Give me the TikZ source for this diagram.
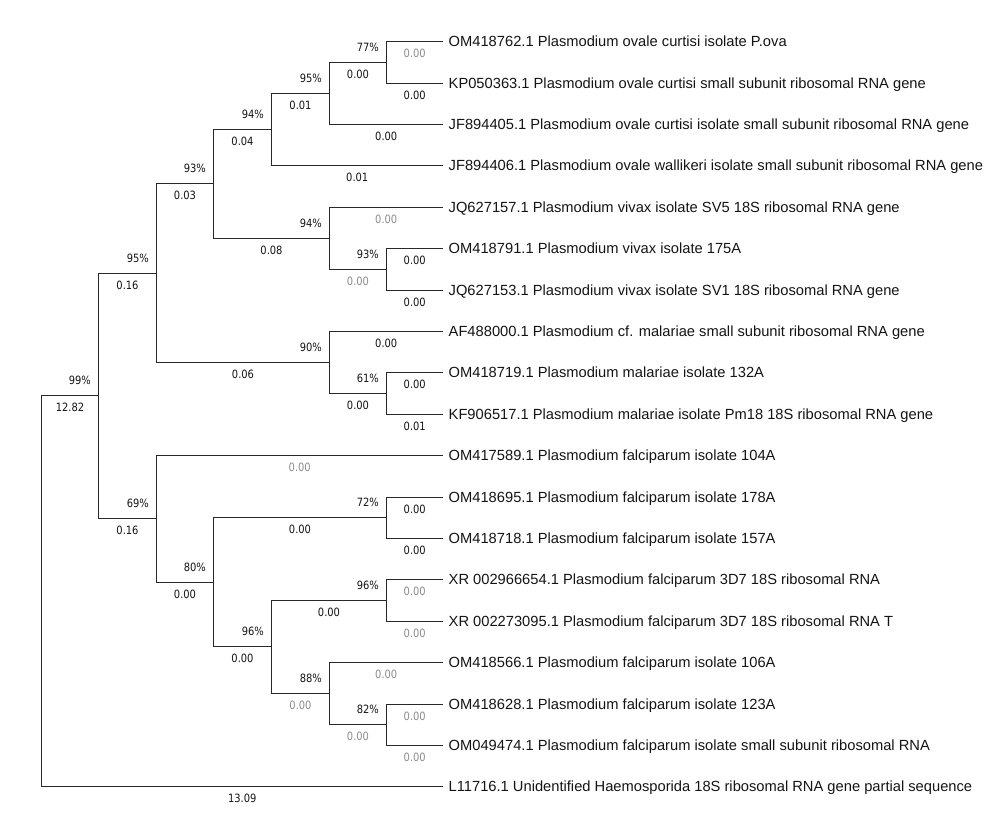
\documentclass[tikz,border=0pt]{standalone}
\usepackage{fontspec}
\setmainfont{Liberation Sans}
\newfontfamily\numfont{DejaVu Sans}[FakeStretch=0.87]
\definecolor{ln}{RGB}{40,40,40}
\definecolor{tx}{RGB}{20,20,20}
\definecolor{gr}{RGB}{140,140,140}
\begin{document}
\begin{tikzpicture}[x=1pt,y=-1pt,
  tree/.style={draw=ln, line width=1.2pt},
  boot/.style={pos=1, anchor=base east, xshift=-7pt, yshift=11.3pt, inner sep=0pt, text=tx, font=\fontsize{11.4}{13}\numfont},
  blen/.style={pos=0.75, anchor=base, yshift=-15.6pt, inner sep=0pt, text=tx, font=\fontsize{11.4}{13}\numfont},
  blg/.style={blen, text=gr},
  leaflab/.style={anchor=base west, xshift=5.5pt, yshift=-5.3pt, inner sep=0pt, text=tx, font=\fontsize{14.7}{17}\selectfont}]
\useasboundingbox (0,0) rectangle (1000,818);
% leaves
\foreach \i/\y in {1/41.5,2/83.5,3/124.5,4/165.5,5/207.5,6/248.5,7/290.5,8/331.5,9/372.5,10/414.5,11/455.5,12/497.5,13/538.5,14/579.5,15/621.5,16/662.5,17/704.5,18/745.5,19/786.5}
  \coordinate (L\i) at (443,\y);
% internal nodes
\coordinate (A) at (386.5,62.5);
\coordinate (B) at (329.5,93.5);
\coordinate (C) at (271.5,129.5);
\coordinate (G) at (386.5,269.5);
\coordinate (E) at (329.5,238.5);
\coordinate (D) at (213.5,183.5);
\coordinate (J) at (386.5,393.5);
\coordinate (H) at (329.5,362.5);
\coordinate (F) at (156.5,273.5);
\coordinate (M) at (386.5,517.5);
\coordinate (O) at (386.5,600.5);
\coordinate (Q) at (386.5,724.5);
\coordinate (P) at (329.5,693.5);
\coordinate (N) at (271.5,646.5);
\coordinate (LL) at (213.5,582.5);
\coordinate (K) at (156.5,518.5);
\coordinate (I) at (98.5,395.5);
\coordinate (R) at (41.5,591.5);
% leaf labels
\node[leaflab] (t1) at (L1) {OM418762.1 Plasmodium ovale curtisi isolate P.ova};
\node[leaflab] (t2) at (L2) {KP050363.1 Plasmodium ovale curtisi small subunit ribosomal RNA gene};
\node[leaflab] (t3) at (L3) {JF894405.1 Plasmodium ovale curtisi isolate small subunit ribosomal RNA gene};
\node[leaflab] (t4) at (L4) {JF894406.1 Plasmodium ovale wallikeri isolate small subunit ribosomal RNA gene};
\node[leaflab] (t5) at (L5) {JQ627157.1 Plasmodium vivax isolate SV5 18S ribosomal RNA gene};
\node[leaflab] (t6) at (L6) {OM418791.1 Plasmodium vivax isolate 175A};
\node[leaflab] (t7) at (L7) {JQ627153.1 Plasmodium vivax isolate SV1 18S ribosomal RNA gene};
\node[leaflab] (t8) at (L8) {AF488000.1 Plasmodium cf. malariae small subunit ribosomal RNA gene};
\node[leaflab] (t9) at (L9) {OM418719.1 Plasmodium malariae isolate 132A};
\node[leaflab] (t10) at (L10) {KF906517.1 Plasmodium malariae isolate Pm18 18S ribosomal RNA gene};
\node[leaflab] (t11) at (L11) {OM417589.1 Plasmodium falciparum isolate 104A};
\node[leaflab] (t12) at (L12) {OM418695.1 Plasmodium falciparum isolate 178A};
\node[leaflab] (t13) at (L13) {OM418718.1 Plasmodium falciparum isolate 157A};
\node[leaflab] (t14) at (L14) {XR 002966654.1 Plasmodium falciparum 3D7 18S ribosomal RNA};
\node[leaflab] (t15) at (L15) {XR 002273095.1 Plasmodium falciparum 3D7 18S ribosomal RNA T};
\node[leaflab] (t16) at (L16) {OM418566.1 Plasmodium falciparum isolate 106A};
\node[leaflab] (t17) at (L17) {OM418628.1 Plasmodium falciparum isolate 123A};
\node[leaflab] (t18) at (L18) {OM049474.1 Plasmodium falciparum isolate small subunit ribosomal RNA};
\node[leaflab] (t19) at (L19) {L11716.1 Unidentified Haemosporida 18S ribosomal RNA gene partial sequence};
% branches
\draw[tree] (R) |- (I) node[boot]{99\%} node[blen]{12.82};
\draw[tree] (R) |- (L19) node[blen]{13.09};
\draw[tree] (I) |- (F) node[boot]{95\%} node[blen]{0.16};
\draw[tree] (I) |- (K) node[boot]{69\%} node[blen]{0.16};
\draw[tree] (F) |- (D) node[boot]{93\%} node[blen]{0.03};
\draw[tree] (F) |- (H) node[boot]{90\%} node[blen]{0.06};
\draw[tree] (D) |- (C) node[boot]{94\%} node[blen]{0.04};
\draw[tree] (D) |- (E) node[boot]{94\%} node[blen]{0.08};
\draw[tree] (C) |- (B) node[boot]{95\%} node[blen]{0.01};
\draw[tree] (C) |- (L4) node[blen]{0.01};
\draw[tree] (B) |- (A) node[boot]{77\%} node[blen]{0.00};
\draw[tree] (B) |- (L3) node[blen]{0.00};
\draw[tree] (A) |- (L1) node[blg]{0.00};
\draw[tree] (A) |- (L2) node[blen]{0.00};
\draw[tree] (E) |- (L5) node[blg]{0.00};
\draw[tree] (E) |- (G) node[boot]{93\%} node[blg]{0.00};
\draw[tree] (G) |- (L6) node[blen]{0.00};
\draw[tree] (G) |- (L7) node[blen]{0.00};
\draw[tree] (H) |- (L8) node[blen]{0.00};
\draw[tree] (H) |- (J) node[boot]{61\%} node[blen]{0.00};
\draw[tree] (J) |- (L9) node[blen]{0.00};
\draw[tree] (J) |- (L10) node[blen]{0.01};
\draw[tree] (K) |- (L11) node[blg]{0.00};
\draw[tree] (K) |- (LL) node[boot]{80\%} node[blen]{0.00};
\draw[tree] (LL) |- (M) node[boot]{72\%} node[blen]{0.00};
\draw[tree] (LL) |- (N) node[boot]{96\%} node[blen]{0.00};
\draw[tree] (M) |- (L12) node[blen]{0.00};
\draw[tree] (M) |- (L13) node[blen]{0.00};
\draw[tree] (N) |- (O) node[boot]{96\%} node[blen]{0.00};
\draw[tree] (N) |- (P) node[boot]{88\%} node[blg]{0.00};
\draw[tree] (O) |- (L14) node[blg]{0.00};
\draw[tree] (O) |- (L15) node[blg]{0.00};
\draw[tree] (P) |- (L16) node[blg]{0.00};
\draw[tree] (P) |- (Q) node[boot]{82\%} node[blg]{0.00};
\draw[tree] (Q) |- (L17) node[blg]{0.00};
\draw[tree] (Q) |- (L18) node[blg]{0.00};
\end{tikzpicture}
\end{document}
